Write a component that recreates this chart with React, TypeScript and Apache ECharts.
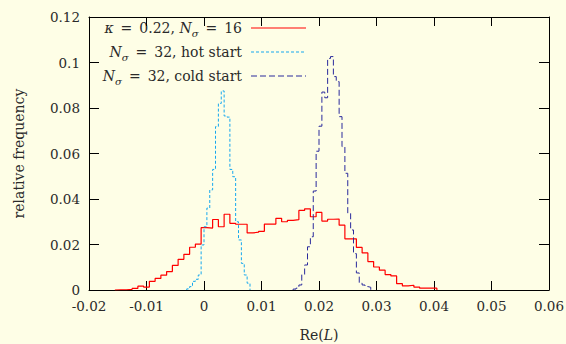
import React, { useEffect, useRef } from "react";
import * as echarts from "echarts";

// Histogram of Re(L): relative frequency per bin.
// kappa = 0.22, N_sigma = 16 — bins of width 0.001 starting at -0.0155
const redFirstEdge = -0.0155;
const redBinWidth = 0.001;
const redValues = [
  0.0001, 0.0001, 0.0003, 0.0007, 0.0017, 0.0013, 0.0038, 0.0051, 0.0065, 0.0081,
  0.0108, 0.0135, 0.0157, 0.0188, 0.0202, 0.0274, 0.0272, 0.031, 0.0278, 0.0333,
  0.0293, 0.0289, 0.0289, 0.0251, 0.0254, 0.0258, 0.029, 0.029, 0.0315, 0.03,
  0.0306, 0.0309, 0.035, 0.0357, 0.0322, 0.0341, 0.0303, 0.0311, 0.0312, 0.0285,
  0.0225, 0.0225, 0.0187, 0.0163, 0.0125, 0.0101, 0.0087, 0.0068, 0.0062, 0.0028,
  0.0018, 0.0021, 0.0013, 0.0008, 0.0008, 0.0008,
];

// N_sigma = 32, hot start — bins of width 0.0005 starting at -0.003
const hotFirstEdge = -0.003;
const hotBinWidth = 0.0005;
const hotValues = [
  0.0005, 0.0015, 0.0038, 0.0047, 0.0066, 0.0198, 0.0278, 0.036, 0.044, 0.053,
  0.0718, 0.082, 0.0875, 0.0765, 0.076, 0.053, 0.0498, 0.03, 0.022, 0.0117,
  0.0066, 0.003,
];

// N_sigma = 32, cold start — bins of width 0.0005 starting at 0.0155
const coldFirstEdge = 0.0155;
const coldBinWidth = 0.0005;
const coldValues = [
  0.0004, 0.0008, 0.0022, 0.0068, 0.011, 0.019, 0.0234, 0.0435, 0.061, 0.072,
  0.087, 0.0845, 0.1018, 0.1026, 0.0938, 0.0916, 0.0762, 0.063, 0.0513, 0.0337,
  0.0264, 0.016, 0.0075, 0.003, 0.0022, 0.0015, 0.0012,
];

const xTicks = { min: -0.02, max: 0.06, interval: 0.01 };
const yTicks = { min: 0, max: 0.12, interval: 0.02 };

// en spaces around "=" give the wider math spacing of the key
const legendLabels = [
  "{i|κ}\u2002=\u20020.22, {i|N}{s|σ}\u2002=\u200216",
  "{i|N}{s|σ}\u2002=\u200232, hot start",
  "{i|N}{s|σ}\u2002=\u200232, cold start",
];

const RED = "#ff0000";
const CYAN = "#16a8ee";
const BLUE = "#2a2a9c";
const BG = "#fefee6";
const TEXT = "#2a2a2a";
const FONT = "'DejaVu Serif', 'Liberation Serif', serif";

// Turn bin heights into step-line points: each bin's height holds from its left edge
// to the next edge, with drops to zero at both ends.
function stepPoints(firstEdge: number, width: number, values: number[]) {
  const edge = (i: number) => Number((firstEdge + i * width).toFixed(6));
  const pts: [number, number][] = [[edge(0), 0]];
  values.forEach((v, i) => pts.push([edge(i), v]));
  pts.push([edge(values.length), 0]);
  return pts;
}

const richText = {
  i: { fontFamily: FONT, fontSize: 14, fontStyle: "italic" as const, color: TEXT, lineHeight: 20 },
  s: {
    fontFamily: FONT,
    fontSize: 10,
    fontStyle: "italic" as const,
    color: TEXT,
    lineHeight: 10,
    verticalAlign: "bottom" as const,
  },
};

export default function App() {
  const ref = useRef<HTMLDivElement>(null);

  useEffect(() => {
    if (!ref.current) return;
    const chart = echarts.init(ref.current, undefined, { renderer: "svg" });

    const axisLine = { show: true, onZero: false, lineStyle: { color: "#000", width: 1 } };
    const label = { color: TEXT, fontFamily: FONT, fontSize: 13.5 };

    const seriesStyle = (color: string, width: number, dash?: number[]) => ({
      color,
      width,
      type: dash ? dash : ("solid" as const),
    });

    const legendRows = [
      { y: 28, color: RED, dash: undefined as number[] | undefined },
      { y: 52, color: CYAN, dash: [3, 2] },
      { y: 76, color: BLUE, dash: [6, 3] },
    ];

    chart.setOption({
      animation: false,
      backgroundColor: BG,
      grid: {
        left: 89,
        right: 17,
        top: 17,
        bottom: 54,
        containLabel: false,
        outerBoundsMode: "none",
      },
      xAxis: [
        {
          type: "value",
          position: "bottom",
          ...xTicks,
          axisLine,
          axisTick: { show: true, inside: true, length: 9, lineStyle: { color: "#000" } },
          axisLabel: { ...label, margin: 9 },
          splitLine: { show: false },
          name: "Re({i|L})",
          nameLocation: "middle",
          nameGap: 35,
          nameTextStyle: { color: TEXT, fontFamily: FONT, fontSize: 14, rich: { i: richText.i } },
        },
        {
          type: "value",
          position: "top",
          ...xTicks,
          axisLine,
          axisTick: { show: true, inside: true, length: 9, lineStyle: { color: "#000" } },
          axisLabel: { show: false },
          splitLine: { show: false },
        },
      ],
      yAxis: [
        {
          type: "value",
          position: "left",
          ...yTicks,
          axisLine,
          axisTick: { show: true, inside: true, length: 10, lineStyle: { color: "#000" } },
          axisLabel: { ...label, margin: 9 },
          splitLine: { show: false },
          name: "relative frequency",
          nameLocation: "middle",
          nameRotate: 90,
          nameGap: 63,
          nameTextStyle: { color: TEXT, fontFamily: FONT, fontSize: 14 },
        },
        {
          type: "value",
          position: "right",
          ...yTicks,
          axisLine,
          axisTick: { show: true, inside: true, length: 10, lineStyle: { color: "#000" } },
          axisLabel: { show: false },
          splitLine: { show: false },
        },
      ],
      series: [
        {
          name: "kappa = 0.22, N_sigma = 16",
          type: "line",
          step: "end",
          symbol: "none",
          silent: true,
          lineStyle: seriesStyle(RED, 1.2),
          data: stepPoints(redFirstEdge, redBinWidth, redValues),
        },
        {
          name: "N_sigma = 32, hot start",
          type: "line",
          step: "end",
          symbol: "none",
          silent: true,
          lineStyle: seriesStyle(CYAN, 1, [3, 2]),
          data: stepPoints(hotFirstEdge, hotBinWidth, hotValues),
        },
        {
          name: "N_sigma = 32, cold start",
          type: "line",
          step: "end",
          symbol: "none",
          silent: true,
          lineStyle: seriesStyle(BLUE, 1, [6, 3]),
          data: stepPoints(coldFirstEdge, coldBinWidth, coldValues),
        },
      ],
      graphic: legendRows.flatMap((row, idx) => [
        {
          type: "text",
          x: 242,
          y: row.y,
          silent: true,
          style: {
            text: legendLabels[idx],
            align: "right",
            verticalAlign: "middle",
            fontFamily: FONT,
            fontSize: 14,
            fill: TEXT,
            rich: richText,
          },
        },
        {
          type: "line",
          silent: true,
          shape: { x1: 251, y1: row.y, x2: 306, y2: row.y },
          style: {
            stroke: row.color,
            lineWidth: row.dash ? 1 : 1.2,
            lineDash: row.dash,
          },
        },
      ]),
    });

    return () => chart.dispose();
  }, []);

  return (
    <div
      ref={ref}
      style={{ position: "fixed", left: 0, top: 0, width: 566, height: 344 }}
    />
  );
}
